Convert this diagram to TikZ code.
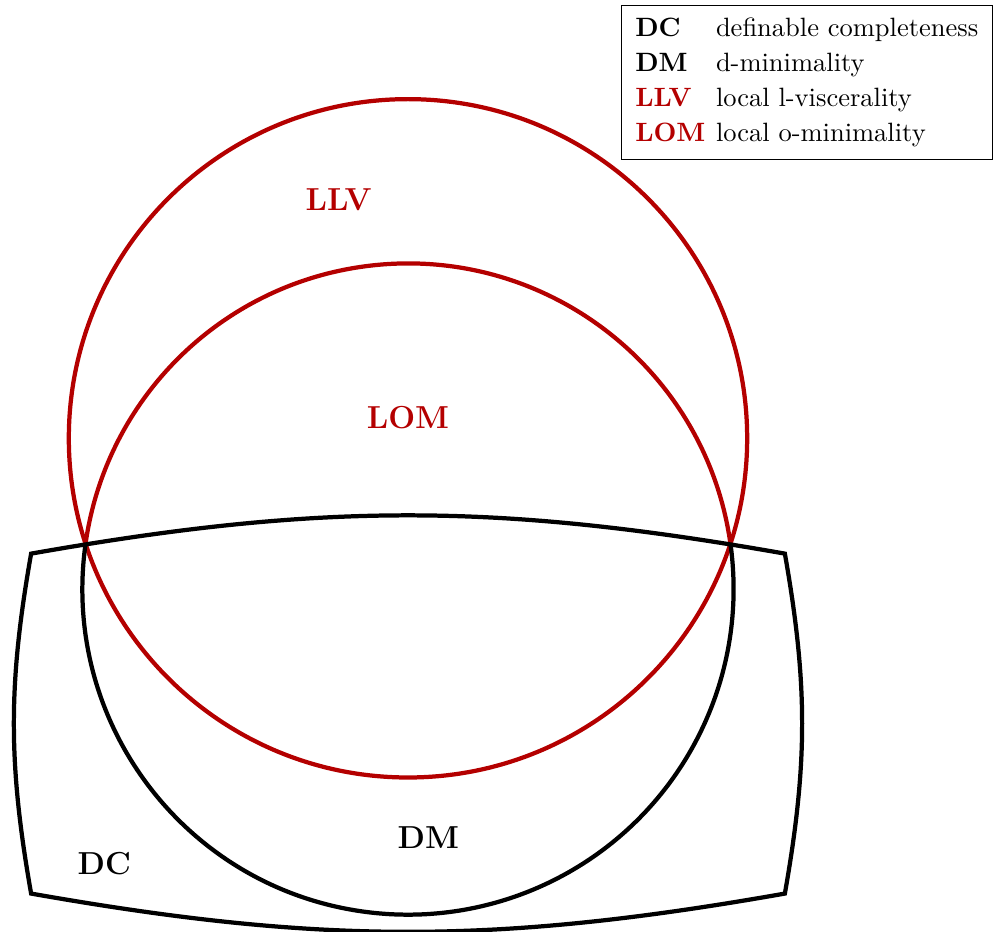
\documentclass[tikz,border=0pt]{standalone}
\usepackage{tikz}
\usetikzlibrary{positioning}
\definecolor{Red}{HTML}{B40000}

\begin{document}
\begin{tikzpicture}[
  set/.style={line width=1.6pt,draw=black},
  redset/.style={set,draw=Red},
  lbl/.style={font=\large\bfseries},
  redlbl/.style={lbl,text=Red},
  key/.style={draw,thin,inner xsep=3.33pt,inner ysep=2.6pt,font=\normalsize}
]
\useasboundingbox (-5.413,-6.537) rectangle (7.788,5.815);
\coordinate (llvc) at (0,0);
\coordinate (lomc) at (0,-2);
% local l-viscerality
\draw[redset] (llvc) circle (4.5);
% local o-minimality, the part inside DC is DM
\draw[redset] (lomc) ++(8.02:4.32) arc[start angle=8.02,end angle=171.98,radius=4.32];
\draw[set] (lomc) ++(171.98:4.32) arc[start angle=171.98,end angle=368.02,radius=4.32];
% definable completeness
\draw[set] (-5,-1.53) to[bend left=10] (5,-1.53) to[bend left=10] (5,-6.04)
  to[bend left=10] (-5,-6.04) to[bend left=10] cycle;
\node[redlbl] (llv) at (-0.92,3.16) {LLV};
\node[redlbl] (lom) at (0,0.27) {LOM};
\node[lbl] (dm) at (0.27,-5.30) {DM};
\node[lbl] (dc) at (-4.03,-5.645) {DC};
% legend
\node[key,anchor=north east] (legend) at (7.76,5.75) {%
  \renewcommand{\arraystretch}{1.1}\setlength{\tabcolsep}{2pt}%
  \begin{tabular}{ll}
    \textbf{DC} & definable completeness\\
    \textbf{DM} & d-minimality\\
    \textcolor{Red}{\textbf{LLV}} & local l-viscerality\\
    \textcolor{Red}{\textbf{LOM}} & local o-minimality
  \end{tabular}};
\end{tikzpicture}
\end{document}
